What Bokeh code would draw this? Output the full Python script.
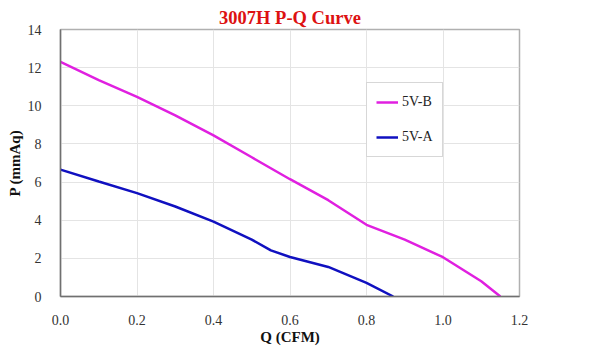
from bokeh.plotting import figure
from bokeh.models import Range1d, Legend, LegendItem, Title
from bokeh.embed import file_html
from bokeh.resources import INLINE

q_b = [0.0, 0.1, 0.2, 0.3, 0.4, 0.5, 0.6, 0.7, 0.8, 0.9, 1.0, 1.1, 1.15]
p_b = [12.3, 11.35, 10.47, 9.5, 8.45, 7.3, 6.15, 5.05, 3.76, 2.98, 2.06, 0.8, 0.0]
q_a = [0.0, 0.1, 0.2, 0.3, 0.4, 0.5, 0.55, 0.6, 0.7, 0.8, 0.87]
p_a = [6.65, 6.03, 5.42, 4.72, 3.93, 2.98, 2.42, 2.07, 1.55, 0.71, 0.0]
x_ticks = [0.0, 0.2, 0.4, 0.6, 0.8, 1.0, 1.2]
y_ticks = [0, 2, 4, 6, 8, 10, 12, 14]

serif = "Liberation Serif"

p = figure(width=594, height=347, output_backend="svg", toolbar_location=None,
           x_range=Range1d(0, 1.2), y_range=Range1d(0, 14),
           min_border_left=60, min_border_right=75, min_border_top=29, min_border_bottom=50)
p.title = None
t = Title(text="3007H P-Q Curve", align="center", text_font=serif, text_font_size="18.5px",
          text_color="#dd1111", text_font_style="bold", offset=0, standoff=3)
p.add_layout(t, "above")

p.outline_line_color = "#b0b0b0"
p.outline_line_width = 1.5
p.xgrid.grid_line_color = "#e4e4e4"
p.ygrid.grid_line_color = "#e4e4e4"

for ax in (p.xaxis[0], p.yaxis[0]):
    ax.major_tick_line_color = None
    ax.minor_tick_line_color = None
    ax.axis_line_color = "#707070"
    ax.axis_line_width = 1.5
    ax.major_label_text_font = serif
    ax.major_label_text_font_size = "14px"
    ax.major_label_text_color = "#333333"
    ax.axis_label_text_font = serif
    ax.axis_label_text_font_size = "15px"
    ax.axis_label_text_font_style = "bold"
    ax.axis_label_text_color = "#111111"

p.xaxis.ticker = x_ticks
p.xaxis.major_label_overrides = {v: f"{v:.1f}" for v in x_ticks}
p.yaxis.ticker = y_ticks
p.xaxis.axis_label = "Q (CFM)"
p.yaxis.axis_label = "P (mmAq)"
p.xaxis.major_label_standoff = 12
p.yaxis.major_label_standoff = 13
p.xaxis.axis_label_standoff = 1
p.yaxis.axis_label_standoff = 2

rb = p.line(q_b, p_b, line_color="#e020e0", line_width=2.5)
ra = p.line(q_a, p_a, line_color="#1010c0", line_width=2.5)

leg = Legend(items=[LegendItem(label="5V-B", renderers=[rb]), LegendItem(label="5V-A", renderers=[ra])],
             location=(306, 139), orientation="vertical",
             label_text_font=serif, label_text_font_size="14px", label_text_color="#222222",
             border_line_color="#b0b0b0", border_line_width=1.5,
             glyph_width=22, spacing=15, padding=9, margin=0, label_standoff=4)
p.add_layout(leg, "center")

open("out.html", "w").write(file_html(p, INLINE))
